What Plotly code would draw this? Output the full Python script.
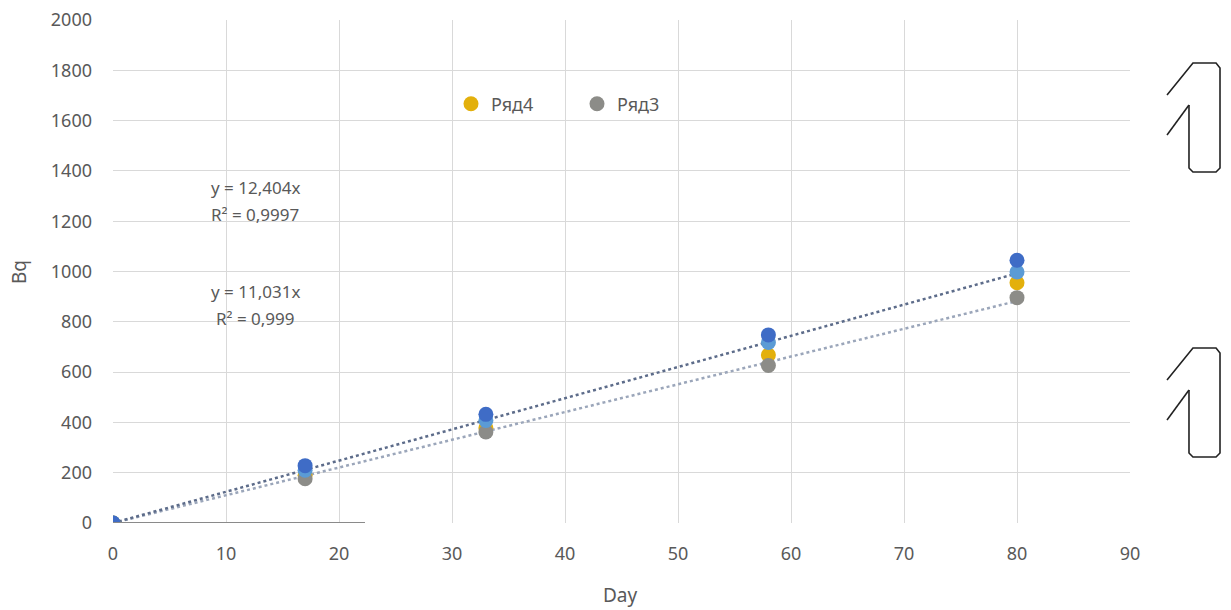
import plotly.graph_objects as go

days = [0, 17, 33, 58, 80]
ryad1 = [0, 228, 432, 748, 1045]
ryad2 = [0, 210, 408, 718, 998]
ryad4 = [0, 190, 378, 668, 955]
ryad3 = [0, 176, 362, 626, 896]

slope_upper = 12.404
slope_lower = 11.031
eq_upper = ["y = 12,404x", "R² = 0,9997"]
eq_lower = ["y = 11,031x", "R² = 0,999"]

x_ticks = [0, 10, 20, 30, 40, 50, 60, 70, 80, 90]
y_ticks = [0, 200, 400, 600, 800, 1000, 1200, 1400, 1600, 1800, 2000]

FONT = "Noto Sans"
TXT = "#595959"

fig = go.Figure()

trend_x = [days[0], days[-1]]
fig.add_trace(go.Scatter(x=trend_x, y=[slope_lower * v for v in trend_x], mode="lines",
                         line=dict(color="#9BA6BA", width=2.5, dash="dot"), showlegend=False))
fig.add_trace(go.Scatter(x=trend_x, y=[slope_upper * v for v in trend_x], mode="lines",
                         line=dict(color="#5D6C8A", width=2.5, dash="dot"), showlegend=False))

fig.add_trace(go.Scatter(x=days, y=ryad4, mode="markers", name="Ряд4",
                         marker=dict(color="#E3B00C", size=15), legendrank=1))
fig.add_trace(go.Scatter(x=days, y=ryad3, mode="markers", name="Ряд3",
                         marker=dict(color="#8C8C88", size=15), legendrank=2))
fig.add_trace(go.Scatter(x=days, y=ryad2, mode="markers", name="Ряд2",
                         marker=dict(color="#5B9BD5", size=15), showlegend=False))
fig.add_trace(go.Scatter(x=days, y=ryad1, mode="markers", name="Ряд1",
                         marker=dict(color="#3F6CC6", size=15), showlegend=False))

# partial dark baseline
fig.add_shape(type="line", x0=0, x1=22.3, y0=0, y1=0, xref="x", yref="y",
              line=dict(color="#8A8A8A", width=2))

def px(xp):
    return (xp - 113) / 1017

def py(yp):
    return (523 - yp) / 503

# hand-drawn "1" glyphs on the right margin
def glyph(dy):
    pts_outline = [(1193, 63), (1216, 63), (1220, 68), (1220, 168), (1216, 172), (1193, 172), (1189, 168), (1189, 105)]
    d = "M {:.4f},{:.4f} L {:.4f},{:.4f}".format(px(1167), py(95 + dy), px(1193), py(63 + dy))
    for (a, b) in pts_outline[1:]:
        d += " L {:.4f},{:.4f}".format(px(a), py(b + dy))
    d2 = "M {:.4f},{:.4f} L {:.4f},{:.4f}".format(px(1189), py(105 + dy), px(1167), py(135 + dy))
    return [d, d2]

for dy in (0, 285):
    for d in glyph(dy):
        fig.add_shape(type="path", path=d, xref="paper", yref="paper",
                      line=dict(color="#222222", width=1.6))

for i, (t1, t2) in enumerate([eq_upper, eq_lower]):
    ybase = [187, 291][i]
    fig.add_annotation(x=px(255), y=py(ybase), xref="paper", yref="paper", text=t1,
                       xanchor="center", yanchor="middle",
                       showarrow=False, font=dict(family=FONT, size=17, color=TXT))
    fig.add_annotation(x=px(255), y=py(ybase + 28), xref="paper", yref="paper", text=t2,
                       xanchor="center", yanchor="middle",
                       showarrow=False, font=dict(family=FONT, size=17, color=TXT))

# axis titles
fig.add_annotation(x=px(620), y=py(595), xref="paper", yref="paper", text="Day",
                   xanchor="center", yanchor="middle", showarrow=False,
                   font=dict(family=FONT, size=19, color=TXT))
fig.add_annotation(x=px(19), y=py(272), xref="paper", yref="paper", text="Bq", textangle=-90,
                   xanchor="center", yanchor="middle", showarrow=False,
                   font=dict(family=FONT, size=19, color=TXT))

fig.update_layout(
    width=1231, height=610,
    margin=dict(l=113, r=101, t=20, b=87, autoexpand=False),
    paper_bgcolor="white", plot_bgcolor="white",
    font=dict(family=FONT, size=18, color=TXT),
    legend=dict(orientation="h", x=px(451), y=py(104), xanchor="left", yanchor="middle",
                font=dict(family=FONT, size=18, color=TXT), bgcolor="rgba(0,0,0,0)",
                itemwidth=30, tracegroupgap=0, entrywidth=81, entrywidthmode="pixels"),
    xaxis=dict(range=[0, 90], tickvals=x_ticks, showgrid=True, gridcolor="#D9D9D9", gridwidth=1,
               zeroline=False, showline=False, ticks="", tickfont=dict(size=18, color=TXT),
               ticklabelstandoff=18, automargin=False),
    yaxis=dict(range=[0, 2000], tickvals=y_ticks, showgrid=True, gridcolor="#D9D9D9", gridwidth=1,
               zeroline=False, showline=False, ticks="", tickfont=dict(size=18, color=TXT),
               ticklabelstandoff=20, automargin=False),
)

fig.write_html("out.html", config={"displayModeBar": False},
               post_script="document.body.style.margin='0';document.body.style.overflow='hidden';")
